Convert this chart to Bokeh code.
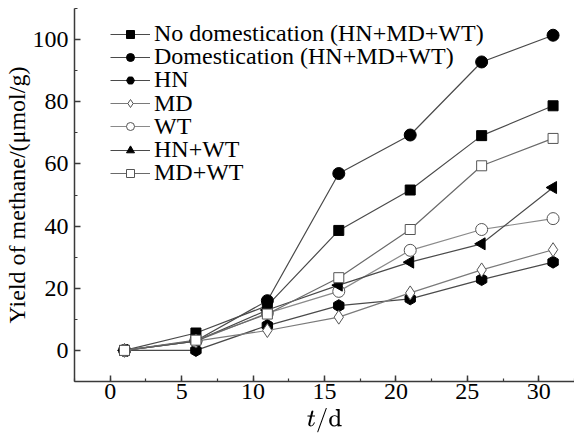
from bokeh.plotting import figure
from bokeh.models import SingleIntervalTicker, Range1d, Legend, LegendItem, ColumnDataSource, TeX
from bokeh.embed import file_html
from bokeh.resources import INLINE

days = [1, 6, 11, 16, 21, 26, 31]
no_domestication = [0, 5.6, 14.4, 38.6, 51.6, 69.1, 78.7]
domestication = [0, 3.1, 16.0, 56.9, 69.3, 92.8, 101.4]
hn = [0, 0, 8.0, 14.4, 16.6, 22.8, 28.4]
md = [0, 3.0, 6.4, 10.7, 18.5, 25.9, 32.4]
wt = [0, 3.0, 12.0, 19.0, 32.2, 38.9, 42.4]
hn_wt = [0, 3.0, 13.0, 21.0, 28.4, 34.3, 52.4]
md_wt = [0, 3.3, 11.7, 23.4, 38.9, 59.4, 68.2]

series_names = ["No domestication (HN+MD+WT)", "Domestication (HN+MD+WT)", "HN",
                "MD", "WT", "HN+WT", "MD+WT"]
series_values = [no_domestication, domestication, hn, md, wt, hn_wt, md_wt]

FONT = "Liberation Serif"

p = figure(width=574, height=436, output_backend="svg", toolbar_location=None,
           x_range=Range1d(-2.5, 32.5), y_range=Range1d(-10, 110),
           min_border_left=74, min_border_right=0, min_border_top=8, min_border_bottom=55)
p.outline_line_color = None
p.xgrid.visible = False
p.ygrid.visible = False
p.background_fill_color = "white"
p.border_fill_color = "white"

# styles (marker, fill, line colour, size, angle)
styles = [
    ("square", "black", "#4a4a4a", 10, 0),
    ("circle", "black", "#4a4a4a", 12, 0),
    ("hex", "black", "#4a4a4a", 12, 0.5236),
    ("diamond", "white", "#7a7a7a", 14, 0),
    ("circle", "white", "#8a8a8a", 12, 0),
    ("triangle", "black", "#4a4a4a", 12, 1.5708),
    ("square", "white", "#6a6a6a", 10, 0),
]

for i, (name, vals, (mk, fill, lc, sz, ang)) in enumerate(zip(series_names, series_values, styles)):
    src = ColumnDataSource(dict(x=days, y=vals, ang=[ang] * len(days)))
    r1 = p.line("x", "y", source=src, line_color=lc, line_width=1.2)
    r2 = p.scatter("x", "y", source=src, marker=mk, size=sz, fill_color=fill,
                   line_color="black" if fill == "black" else "#555555",
                   line_width=1, angle="ang")
    leg = Legend(items=[LegendItem(label=name, renderers=[r1, r2], index=0)],
                 location=(36, 334 - 23.2 * i), border_line_color=None,
                 background_fill_alpha=0, padding=0, margin=0, spacing=0,
                 glyph_width=40, glyph_height=20, label_height=20, label_standoff=4,
                 label_text_font=FONT, label_text_font_size="24px",
                 label_text_color="black")
    p.add_layout(leg, "center")

for ax in (p.xaxis[0], p.yaxis[0]):
    ax.axis_line_color = "#3a3a3a"
    ax.axis_line_width = 1.5
    ax.major_tick_line_color = "#3a3a3a"
    ax.minor_tick_line_color = "#3a3a3a"
    ax.major_tick_line_width = 1.5
    ax.minor_tick_line_width = 1.2
    ax.major_tick_in = 6
    ax.major_tick_out = 0
    ax.minor_tick_in = 3
    ax.minor_tick_out = 0
    ax.major_label_text_font = FONT
    ax.major_label_text_font_size = "24px"
    ax.major_label_text_color = "black"
    ax.axis_label_text_font = FONT
    ax.axis_label_text_font_size = "24px"
    ax.axis_label_text_font_style = "normal"
    ax.axis_label_text_color = "black"

p.xaxis[0].ticker = SingleIntervalTicker(interval=5, num_minor_ticks=2)
p.yaxis[0].ticker = SingleIntervalTicker(interval=20, num_minor_ticks=2)
p.xaxis[0].major_label_standoff = 2
p.yaxis[0].major_label_standoff = 6
p.yaxis[0].axis_label = "Yield of methane/(\u03bcmol/g)"
p.yaxis[0].axis_label_standoff = 0
p.xaxis[0].axis_label = TeX(text=r"t/\mathrm{d}")
p.xaxis[0].axis_label_standoff = 6
p.xaxis[0].axis_label_text_font_size = "24px"

open("out.html", "w").write(file_html(p, INLINE))
